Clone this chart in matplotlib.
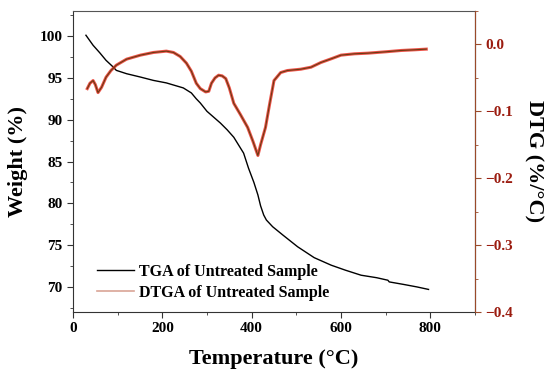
import matplotlib.pyplot as plt
from matplotlib.lines import Line2D
from matplotlib.ticker import MultipleLocator

plt.rcParams['font.family'] = ['Liberation Serif', 'DejaVu Serif']
plt.rcParams['font.weight'] = 'bold'

# TGA curve (weight %)
tga_temp = [29, 45, 60, 74, 90, 97, 120, 151, 180, 209, 247, 265, 276, 285, 300, 315,
            330, 345, 360, 382, 393, 405, 414, 420, 427, 433, 440, 447, 470, 503, 540,
            578, 610, 645, 680, 705, 708, 740, 770, 796]
tga_weight = [100.1, 98.9, 98.0, 97.1, 96.3, 95.9, 95.5, 95.1, 94.7, 94.4, 93.8, 93.2,
              92.5, 92.0, 91.0, 90.3, 89.6, 88.8, 87.9, 86.0, 84.2, 82.5, 81.0, 79.7,
              78.6, 78.0, 77.6, 77.2, 76.2, 74.8, 73.5, 72.6, 72.0, 71.4, 71.1, 70.8,
              70.6, 70.3, 70.0, 69.7]

# DTG curve (%/°C)
dtg_temp = [32, 38, 45, 50, 56, 64, 74, 85, 97, 120, 151, 180, 209, 225, 240, 254, 265,
            276, 285, 297, 304, 310, 318, 326, 334, 342, 350, 360, 375, 391, 403, 414,
            420, 431, 440, 450, 465, 480, 510, 533, 555, 580, 600, 630, 661, 700, 735,
            765, 791]
dtg_value = [-0.066, -0.058, -0.054, -0.060, -0.072, -0.064, -0.049, -0.039, -0.031,
             -0.022, -0.016, -0.012, -0.010, -0.012, -0.018, -0.028, -0.040, -0.058,
             -0.066, -0.071, -0.070, -0.058, -0.050, -0.046, -0.047, -0.051, -0.065,
             -0.088, -0.105, -0.124, -0.145, -0.166, -0.150, -0.124, -0.090, -0.054,
             -0.042, -0.039, -0.037, -0.034, -0.027, -0.021, -0.016, -0.014, -0.013,
             -0.011, -0.009, -0.008, -0.007]

fig = plt.figure(figsize=(5.5, 3.78), dpi=100)
ax = fig.add_axes([0.1327, 0.1746, 0.7309, 0.7963])
ax2 = ax.twinx()

ax.plot(tga_temp, tga_weight, color='black', lw=1.0, zorder=3)
ax2.plot(dtg_temp, dtg_value, color='#e8281c', lw=2.2, alpha=0.8)
ax2.plot(dtg_temp, dtg_value, color='#6a3a12', lw=0.8)

ax.set_xlim(0, 900)
ax.set_ylim(67, 103)
ax2.set_ylim(-0.4, 0.05)

ax.xaxis.set_major_locator(MultipleLocator(200))
ax.xaxis.set_minor_locator(MultipleLocator(100))
ax.yaxis.set_major_locator(MultipleLocator(5))
ax.yaxis.set_minor_locator(MultipleLocator(2.5))
ax2.yaxis.set_major_locator(MultipleLocator(0.1))
ax2.yaxis.set_minor_locator(MultipleLocator(0.05))

brown = '#9a4a2a'
for sp in ['left', 'bottom']:
    ax.spines[sp].set_color('#333333')
ax.spines['top'].set_color('#555555')
ax2.spines['right'].set_color(brown)
ax2.spines['left'].set_visible(False)
ax2.spines['top'].set_visible(False)
ax2.spines['bottom'].set_visible(False)

ax.tick_params(axis='both', which='major', length=4, direction='out', labelsize=11, colors='#333333', labelcolor='black')
ax.tick_params(axis='both', which='minor', length=2.5, direction='out', colors='#333333')
ax.tick_params(top=False, which='both')
ax2.tick_params(axis='y', which='major', length=4, colors=brown, labelcolor='#9b1c10', labelsize=11)
ax2.tick_params(axis='y', which='minor', length=2.5, colors=brown)

for lab in ax.get_xticklabels() + ax.get_yticklabels() + ax2.get_yticklabels():
    lab.set_fontweight('bold')

ax.set_xlabel('Temperature (°C)', fontsize=16, fontweight='bold', labelpad=10)
ax.set_ylabel('Weight (%)', fontsize=16, fontweight='bold', labelpad=8)
ax2.set_ylabel('DTG (%/°C)', fontsize=16, fontweight='bold', rotation=270, labelpad=22)

handles = [Line2D([], [], color='black', lw=1.0),
           Line2D([], [], color='#d9a496', lw=1.2)]
ax.legend(handles, ['TGA of Untreated Sample', 'DTGA of Untreated Sample'],
          loc='lower left', bbox_to_anchor=(0.025, -0.01), frameon=False,
          prop={'weight': 'bold', 'size': 11.5}, handlelength=2.3, handletextpad=0.3,
          labelspacing=0.3)

fig.savefig('out.png', dpi=100)
